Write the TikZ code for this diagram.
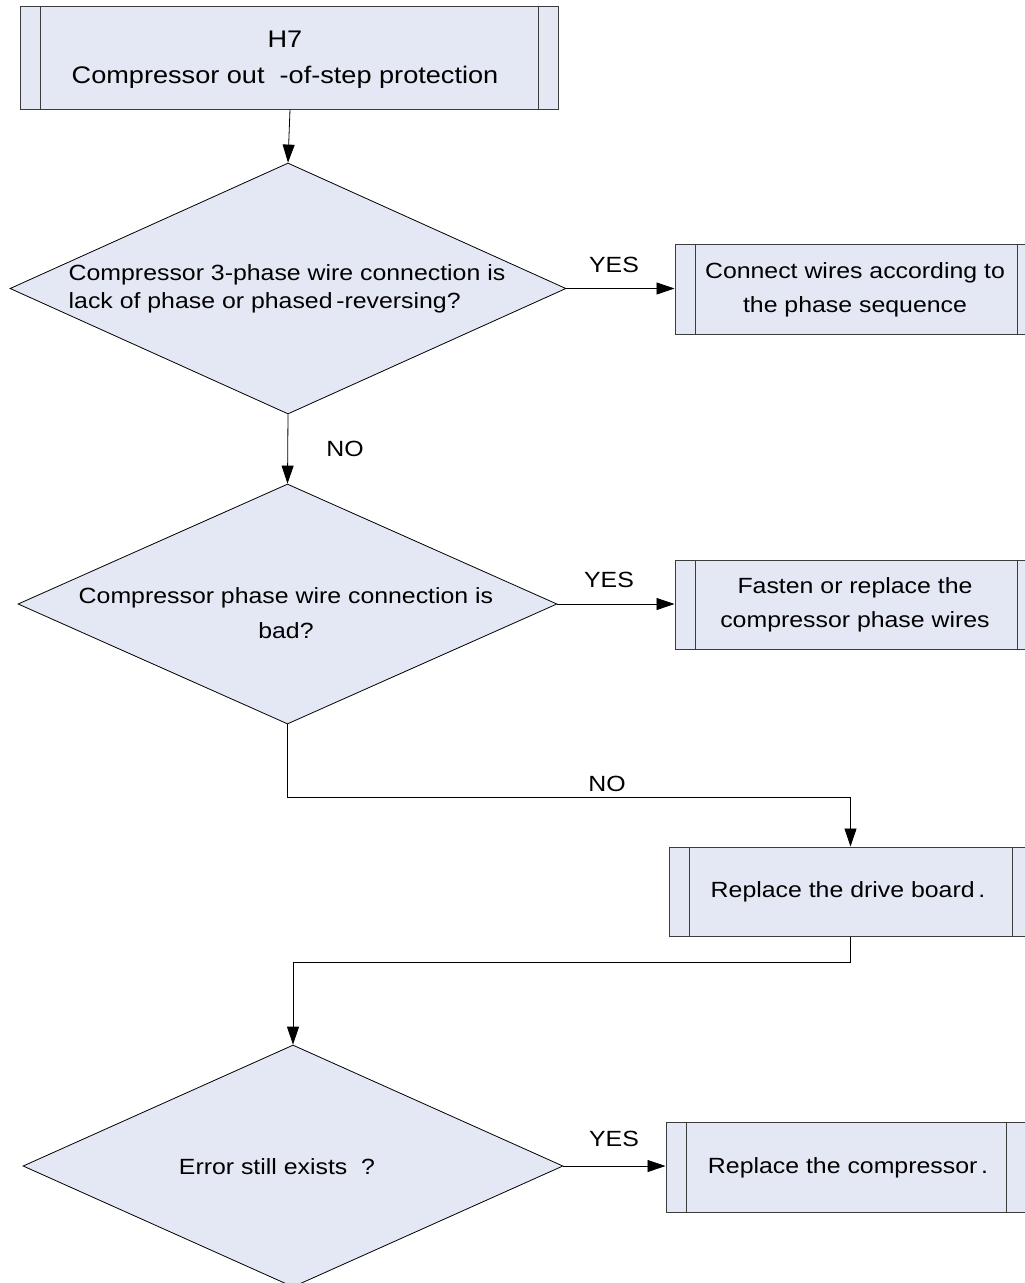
\documentclass[tikz,border=0pt]{standalone}
\usepackage{fontspec}
\setmainfont{Liberation Sans}[FakeStretch=1.13]
\usetikzlibrary{shapes.geometric,arrows.meta}
\definecolor{boxfill}{RGB}{228,232,244}
\definecolor{boxline}{RGB}{60,60,60}
\begin{document}
\begin{tikzpicture}[x=1pt,y=-1pt,
  proc/.style={draw=boxline,line width=1pt,fill=boxfill,inner sep=0pt,
    path picture={
      \draw[boxline,line width=0.8pt] ([xshift=20pt]path picture bounding box.north west) -- ([xshift=20pt]path picture bounding box.south west);
      \draw[boxline,line width=0.8pt] ([xshift=-20pt]path picture bounding box.north east) -- ([xshift=-20pt]path picture bounding box.south east);
    }},
  dia/.style={diamond,draw=black,line width=0.8pt,fill=boxfill,inner sep=0pt},
  txt/.style={font=\fontsize{22}{34}\selectfont,inner sep=0pt},
  lbl/.style={font=\fontsize{22}{26}\selectfont,inner sep=0pt},
  arr/.style={draw=black,line width=0.8pt,-{Triangle[length=18pt,width=12pt]}},
  ln/.style={draw=black,line width=0.8pt}
]
\useasboundingbox (0,0) rectangle (1025,1283);
\clip (0,0) rectangle (1025,1283);
\fill[white] (0,0) rectangle (1025,1283);

% shapes
\node[proc,minimum width=538pt,minimum height=103pt] (top) at (289,57.5) {};
\node[txt,align=center,font=\fontsize{24}{36}\selectfont] (toptxt) at (285,60) {H7\\Compressor out\ \ -of-step protection};

\node[dia,minimum width=556pt,minimum height=251pt] (d1) at (288,288.5) {};
\node[txt,align=left,font=\fontsize{22}{28}\selectfont] (d1txt) at (287,289) {Compressor 3-phase wire connection is\\lack of phase or phased\,-reversing?};

\node[proc,minimum width=362pt,minimum height=90pt] (b2) at (856,289) {};
\node[txt,align=center] (b2txt) at (855,290) {Connect wires according to\\the phase sequence};

\node[dia,minimum width=539pt,minimum height=240pt] (d2) at (287.5,604) {};
\node[txt,align=center,font=\fontsize{22}{35}\selectfont] (d2txt) at (286,613) {Compressor phase wire connection is\\bad?};

\node[proc,minimum width=362pt,minimum height=89pt] (b3) at (856,604.5) {};
\node[txt,align=center] (b3txt) at (855,605) {Fasten or replace the\\compressor phase wires};

\node[proc,minimum width=363pt,minimum height=89pt] (b4) at (850.5,891.5) {};
\node[txt] (b4txt) at (848,892) {Replace the drive board\,.};

\node[dia,minimum width=540pt,minimum height=242pt] (d3) at (293,1166) {};
\node[txt] (d3txt) at (277,1167) {Error still exists\ \ ?};

\node[proc,minimum width=360pt,minimum height=90pt] (b5) at (846,1167) {};
\node[txt] (b5txt) at (848,1168) {Replace the compressor\,.};

% connectors
\draw[arr] ([xshift=1pt]top.south) -- (d1.north);
\draw[arr] (d1.east) -- (b2.west |- d1.east);
\node[lbl] (yes1) at (614,265) {YES};
\draw[arr] (d1.south) -- (d2.north);
\node[lbl] (no1) at (345,449) {NO};
\draw[arr] (d2.east) -- (b3.west |- d2.east);
\node[lbl] (yes2) at (609,580) {YES};
\draw[arr] (d2.south) -- ++(0,73) -| (b4.north);
\node[lbl] (no2) at (607,784) {NO};
\draw[arr] (b4.south) -- ++(0,26) -| (d3.north);
\draw[arr] (d3.east) -- (b5.west |- d3.east);
\node[lbl] (yes3) at (614,1139) {YES};
\end{tikzpicture}
\end{document}
